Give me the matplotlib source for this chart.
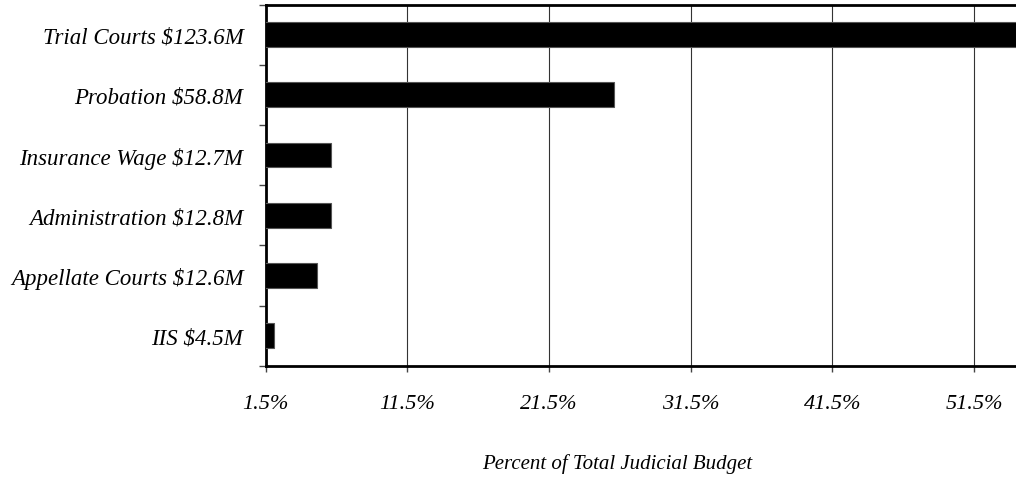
import matplotlib
matplotlib.use("Agg")
import matplotlib.pyplot as plt
from matplotlib.ticker import FixedLocator

categories = ["Trial Courts $123.6M", "Probation $58.8M", "Insurance Wage $12.7M",
              "Administration $12.8M", "Appellate Courts $12.6M", "IIS $4.5M"]
percent = [54.9, 26.1, 6.1, 6.1, 5.1, 2.1]
xticks = [1.5, 11.5, 21.5, 31.5, 41.5, 51.5]
xtick_labels = ["1.5%", "11.5%", "21.5%", "31.5%", "41.5%", "51.5%"]

plt.rcParams['font.family'] = ['Liberation Serif', 'DejaVu Serif']
plt.rcParams['font.style'] = 'italic'

W, H = 1016, 481
fig = plt.figure(figsize=(W/100, H/100), dpi=100)
left_px, right_px = 265.5, 265.5 + 54 * 14.17
top_px, bot_px = 5.5, 366.7
ax = fig.add_axes([left_px/W, 1 - bot_px/H, (right_px-left_px)/W, (bot_px-top_px)/H])

y = list(range(len(categories)))
ax.barh(y, percent, height=0.41, color='black', edgecolor='#555555', linewidth=0.8, zorder=3)
ax.set_xlim(1.5, 55.5)
ax.set_ylim(len(categories) - 0.5, -0.5)

ax.set_xticks(xticks)
ax.set_xticklabels(xtick_labels, fontsize=16, style='italic')
ax.set_yticks(y)
ax.set_yticklabels(categories, fontsize=16.5, style='italic')
ax.yaxis.set_minor_locator(FixedLocator([i - 0.5 for i in range(len(categories) + 1)]))
ax.tick_params(axis='y', which='major', length=0, pad=16)
ax.tick_params(axis='y', which='minor', length=5, width=1, color='#444444', direction='out')
ax.tick_params(axis='x', which='major', length=4.5, width=1, color='#444444', direction='out', pad=16)

ax.grid(axis='x', color='#333333', linewidth=0.8, zorder=0)
for s in ['top', 'bottom', 'left']:
    ax.spines[s].set_linewidth(2)
    ax.spines[s].set_color('black')
ax.spines['right'].set_visible(False)

fig.text(617/W, 1 - 464/H, "Percent of Total Judicial Budget", ha='center', va='center',
         fontsize=15, style='italic')

fig.savefig("out.png", dpi=100)
